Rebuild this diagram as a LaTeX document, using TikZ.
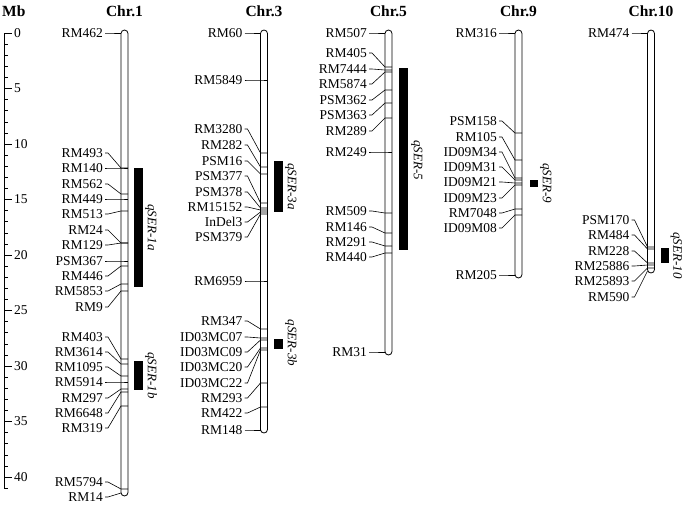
\documentclass[tikz,border=0pt]{standalone}
\usepackage{fontspec}
\setmainfont{Liberation Serif}

\begin{document}
\begin{tikzpicture}[
			x=1pt, y=-1pt,
			marker/.style={anchor=east, inner sep=0pt, font=\fontsize{13.5}{15}\selectfont},
			chrtitle/.style={inner sep=0pt, font=\fontsize{15.5}{17}\selectfont\bfseries},
			chrom/.style={draw, line width=0.8pt, rounded corners=3.5pt},
			leader/.style={line width=0.6pt},
			qtllabel/.style={rotate=-90, anchor=south, inner sep=0pt, font=\fontsize{13}{15}\selectfont\itshape}
			]
			\useasboundingbox (0,0) rectangle (685,504);
			% scale in Mb
			\node[chrtitle, anchor=west] (mb) at (2,11) {Mb};
			\draw[leader] (4,33) -- (4,488);
			\foreach \v in {0,...,41}
				\draw[leader] (4,33+11.1*\v) -- ++(4,0);
			\foreach \v in {0,5,...,40} {
				\draw[leader] (4,33+11.1*\v) -- ++(8,0);
				\node[marker, anchor=west] (mb\v) at (14,33+11.1*\v) {\v};
			}
			% Chr.1
			\node[chrtitle] (t1) at (124.5,11) {Chr.1};
			\draw[chrom] (121,30) rectangle (128,496);
			\foreach \ly/\my/\w/\name [count=\i] in {33/33/0/RM462, 153/168/7/RM493, 168/168/7/RM140,
				184/194/7/RM562, 199/199/7/RM449, 214/211/7/RM513, 230/243/7/RM24, 245/243/7/RM129,
				261/261/7/PSM367, 276/266/7/RM446, 291/284/7/RM5853, 307/291/7/RM9, 337/359/7/RM403,
				352/364/7/RM3614, 367/376/7/RM1095, 382/382/7/RM5914, 398/389/7/RM297, 413/392/7/RM6648,
				428/406/7/RM319, 482/489/7/RM5794, 497/493/0/RM14} {
				\node[marker] (c1m\i) at (103,\ly) {\name};
				\coordinate (c1b\i) at (121,\my);
				\draw[leader] (c1m\i.east) ++(2,0) -- ++(3,0) -- (c1b\i) -- ++(\w,0);
			}
			\fill (134,168) rectangle (143,287);
			\node[qtllabel] (q1a) at (145,227.5) {qSER-1a};
			\fill (134,361) rectangle (143,390);
			\node[qtllabel] (q1b) at (145,375.5) {qSER-1b};
			% Chr.3
			\node[chrtitle] (t3) at (264,11) {Chr.3};
			\draw[chrom] (260.5,30) rectangle (267.5,433);
			\foreach \ly/\my/\w/\name [count=\i] in {33/33/0/RM60, 80/80/7/RM5849, 129/153/7/RM3280,
				145/167/7/RM282, 161/174/7/PSM16, 176/203/7/PSM377, 192/208/7/PSM378, 207/210/7/RM15152,
				222/212/7/InDel3, 237/214/7/PSM379, 281/281/7/RM6959, 321/329/7/RM347, 337/338/7/ID03MC07,
				352/340/7/ID03MC09, 367/348/7/ID03MC20, 383/350/7/ID03MC22, 398/383/7/RM293,
				413/407/7/RM422, 430/430/0/RM148} {
				\node[marker] (c3m\i) at (242.5,\ly) {\name};
				\coordinate (c3b\i) at (260.5,\my);
				\draw[leader] (c3m\i.east) ++(2,0) -- ++(3,0) -- (c3b\i) -- ++(\w,0);
			}
			\fill (274,161) rectangle (282.5,212);
			\node[qtllabel] (q3a) at (285,186.5) {qSER-3a};
			\fill (274,339) rectangle (282.5,349);
			\node[qtllabel] (q3b) at (285,343) {qSER-3b};
			% Chr.5
			\node[chrtitle] (t5) at (388.5,11) {Chr.5};
			\draw[chrom] (385,30) rectangle (392,355);
			\foreach \ly/\my/\w/\name [count=\i] in {33/33/0/RM507, 53/67/7/RM405, 69/70/7/RM7444,
				84/72/7/RM5874, 100/90/7/PSM362, 115/103/7/PSM363, 131/118/7/RM289, 152/152/7/RM249,
				211/213/7/RM509, 227/233/7/RM146, 242/246/7/RM291, 257/253/7/RM440, 352/352/0/RM31} {
				\node[marker] (c5m\i) at (367,\ly) {\name};
				\coordinate (c5b\i) at (385,\my);
				\draw[leader] (c5m\i.east) ++(2,0) -- ++(3,0) -- (c5b\i) -- ++(\w,0);
			}
			\fill (399,68) rectangle (407.5,250);
			\node[qtllabel] (q5) at (411,160) {qSER-5};
			% Chr.9
			\node[chrtitle] (t9) at (518.5,11) {Chr.9};
			\draw[chrom] (515,30) rectangle (522,278);
			\foreach \ly/\my/\w/\name [count=\i] in {33/33/0/RM316, 121/133/7/PSM158, 137/160/7/RM105,
				152/178/7/ID09M34, 167/180/7/ID09M31, 182/183/7/ID09M21, 198/185/7/ID09M23,
				213/209/7/RM7048, 228/215/7/ID09M08, 275/275/0/RM205} {
				\node[marker] (c9m\i) at (497,\ly) {\name};
				\coordinate (c9b\i) at (515,\my);
				\draw[leader] (c9m\i.east) ++(2,0) -- ++(3,0) -- (c9b\i) -- ++(\w,0);
			}
			\fill (530,179.5) rectangle (537.5,186.5);
			\node[qtllabel] (q9) at (540,183) {qSER-9};
			% Chr.10
			\node[chrtitle] (t10) at (651,11) {Chr.10};
			\draw[chrom] (647.5,30) rectangle (654.5,273);
			\foreach \ly/\my/\w/\name [count=\i] in {33/33/0/RM474, 220/247/7/PSM170, 235/249/7/RM484,
				251/263/7/RM228, 266/265/7/RM25886, 281/268/7/RM25893, 297/271/0/RM590} {
				\node[marker] (c10m\i) at (629.5,\ly) {\name};
				\coordinate (c10b\i) at (647.5,\my);
				\draw[leader] (c10m\i.east) ++(2,0) -- ++(3,0) -- (c10b\i) -- ++(\w,0);
			}
			\fill (661,248) rectangle (669,263);
			\node[qtllabel] (q10) at (670.5,255.5) {qSER-10};
		\end{tikzpicture}
\end{document}
